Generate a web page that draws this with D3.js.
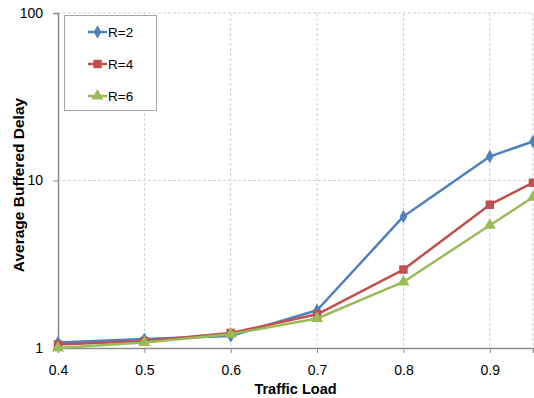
<!DOCTYPE html>
<html>
<head>
<meta charset="utf-8">
<script src="https://cdn.jsdelivr.net/npm/d3@7"></script>
<style>
  html, body { margin: 0; padding: 0; background: #fff; }
  svg { display: block; font-family: "Liberation Sans", Arial, sans-serif; }
</style>
</head>
<body>
<svg id="chart" width="534" height="398"></svg>
<script>
// Traffic load on the x axis, average buffered delay (log scale) on the y axis
const loads = [0.4, 0.5, 0.6, 0.7, 0.8, 0.9, 0.95];
const delayR2 = [1.08, 1.13, 1.18, 1.68, 6.1, 13.9, 17.1];
const delayR4 = [1.05, 1.10, 1.23, 1.59, 2.94, 7.17, 9.7];
const delayR6 = [1.00, 1.08, 1.21, 1.50, 2.48, 5.4, 7.95];
const xTicks = [0.4, 0.5, 0.6, 0.7, 0.8, 0.9];
const yTicks = [1, 10, 100];
const seriesNames = ["R=2", "R=4", "R=6"];

const series = [
  { name: seriesNames[0], values: delayR2, color: "#4F81BD", symbol: d3.symbolDiamond, size: 52 },
  { name: seriesNames[1], values: delayR4, color: "#C0504D", symbol: d3.symbolSquare, size: 72 },
  { name: seriesNames[2], values: delayR6, color: "#9BBB59", symbol: d3.symbolTriangle, size: 64 }
];

const svg = d3.select("#chart");
const plotLeft = 58, plotRight = 533, plotTop = 13, plotBottom = 348;

const x = d3.scaleLinear().domain([0.4, 0.95]).range([plotLeft, plotRight]);
const y = d3.scaleLog().domain([1, 100]).range([plotBottom, plotTop]);

// dashed grid
const grid = svg.append("g");
grid.selectAll("line.v").data(xTicks.slice(1).concat([0.95])).join("line")
  .attr("x1", d => x(d)).attr("x2", d => x(d))
  .attr("y1", plotTop).attr("y2", plotBottom)
  .attr("stroke", "#d0d0d0").attr("stroke-width", 1).attr("stroke-dasharray", "3,2");
grid.selectAll("line.h").data(yTicks.slice(1)).join("line")
  .attr("x1", plotLeft).attr("x2", plotRight)
  .attr("y1", d => y(d)).attr("y2", d => y(d))
  .attr("stroke", "#d0d0d0").attr("stroke-width", 1).attr("stroke-dasharray", "3,2");

// axes
const xAxis = svg.append("g").attr("transform", `translate(0,${plotBottom})`)
  .call(d3.axisBottom(x).tickValues(xTicks).tickFormat(d3.format(".1f")).tickSize(5).tickPadding(12));
const yAxis = svg.append("g").attr("transform", `translate(${plotLeft},0)`)
  .call(d3.axisLeft(y).tickValues(yTicks).tickFormat(d3.format("d")).tickSize(5).tickPadding(10));
[xAxis, yAxis].forEach(a => {
  a.select(".domain").attr("stroke", "#8c8c8c").attr("stroke-width", 1.5);
  a.selectAll(".tick line").attr("stroke", "#8c8c8c");
  a.selectAll(".tick text").attr("fill", "#000").style("font-size", "14px")
    .style("font-family", "'Liberation Sans', Arial, sans-serif");
});

// lines and markers
const line = d3.line().x((d, i) => x(loads[i])).y(d => y(d));
series.forEach(s => {
  svg.append("path").datum(s.values)
    .attr("d", line).attr("fill", "none")
    .attr("stroke", s.color).attr("stroke-width", 2.5).attr("stroke-linejoin", "round");
  svg.append("g").selectAll("path").data(s.values).join("path")
    .attr("transform", (d, i) => `translate(${x(loads[i])},${y(d)})`)
    .attr("d", d3.symbol().type(s.symbol).size(s.size))
    .attr("fill", s.color);
});

// axis titles
svg.append("text").attr("x", (plotLeft + plotRight) / 2).attr("y", 394)
  .attr("text-anchor", "middle").style("font-size", "14.5px").style("font-weight", "bold")
  .text("Traffic Load");
svg.append("text").attr("transform", "translate(24,185) rotate(-90)")
  .attr("text-anchor", "middle").style("font-size", "15.5px").style("font-weight", "bold")
  .text("Average Buffered Delay");

// legend
const legend = svg.append("g");
legend.append("rect").attr("x", 64.5).attr("y", 15.5).attr("width", 92).attr("height", 95)
  .attr("fill", "#fff").attr("stroke", "#a6a6a6").attr("stroke-width", 1);
series.forEach((s, i) => {
  const ly = 32 + i * 32;
  legend.append("line").attr("x1", 88).attr("x2", 107).attr("y1", ly).attr("y2", ly)
    .attr("stroke", s.color).attr("stroke-width", 2.5);
  legend.append("path").attr("transform", `translate(97.5,${ly})`)
    .attr("d", d3.symbol().type(s.symbol).size(s.size)).attr("fill", s.color);
  legend.append("text").attr("x", 108).attr("y", ly + 5)
    .style("font-size", "13.5px").text(s.name);
});
</script>
</body>
</html>
